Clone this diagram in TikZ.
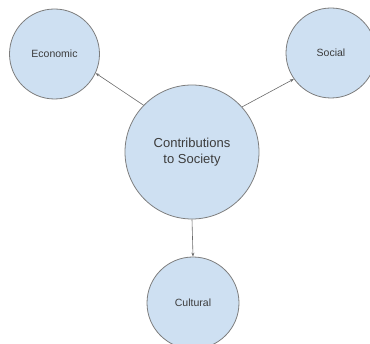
\documentclass[tikz,border=0pt]{standalone}
\usepackage{fontspec}
\setmainfont{Liberation Sans}
\usepackage{tikz}
\usetikzlibrary{arrows.meta}

\definecolor{bubblefill}{RGB}{206,224,242}
\definecolor{bubbleline}{RGB}{125,125,125}
\definecolor{bubbletext}{RGB}{60,60,60}

\tikzset{
  bubble/.style={circle,draw=bubbleline,line width=0.8pt,fill=bubblefill,
    text=bubbletext,inner sep=0pt,align=center,font=\fontsize{10.5}{12}\selectfont},
  link/.style={draw=bubbleline!85!black,line width=0.6pt,-{Stealth[length=4pt,width=3pt]}}
}

\begin{document}
\begin{tikzpicture}[x=1pt,y=1pt,yscale=-1,xscale=1]
\useasboundingbox (0,0) rectangle (370,344);

%Shape: Circle [hub]
\node [bubble,minimum size=134pt,font=\fontsize{13}{15.5}\selectfont] (society) at (192,152) {Contributions\\to Society};

%Shape: Circle [economic]
\node [bubble,minimum size=90pt] (economic) at (54.5,54) {Economic};

%Shape: Circle [social]
\node [bubble,minimum size=90pt] (social) at (331,53) {Social};

%Shape: Circle [cultural]
\node [bubble,minimum size=92pt] (cultural) at (193,303) {Cultural};

%Straight Lines
\draw [link] (society.136) -- (economic.335);
\draw [link] (society.42) -- (social.215);
\draw [link] (society.south) -- (cultural.north);

\end{tikzpicture}
\end{document}
